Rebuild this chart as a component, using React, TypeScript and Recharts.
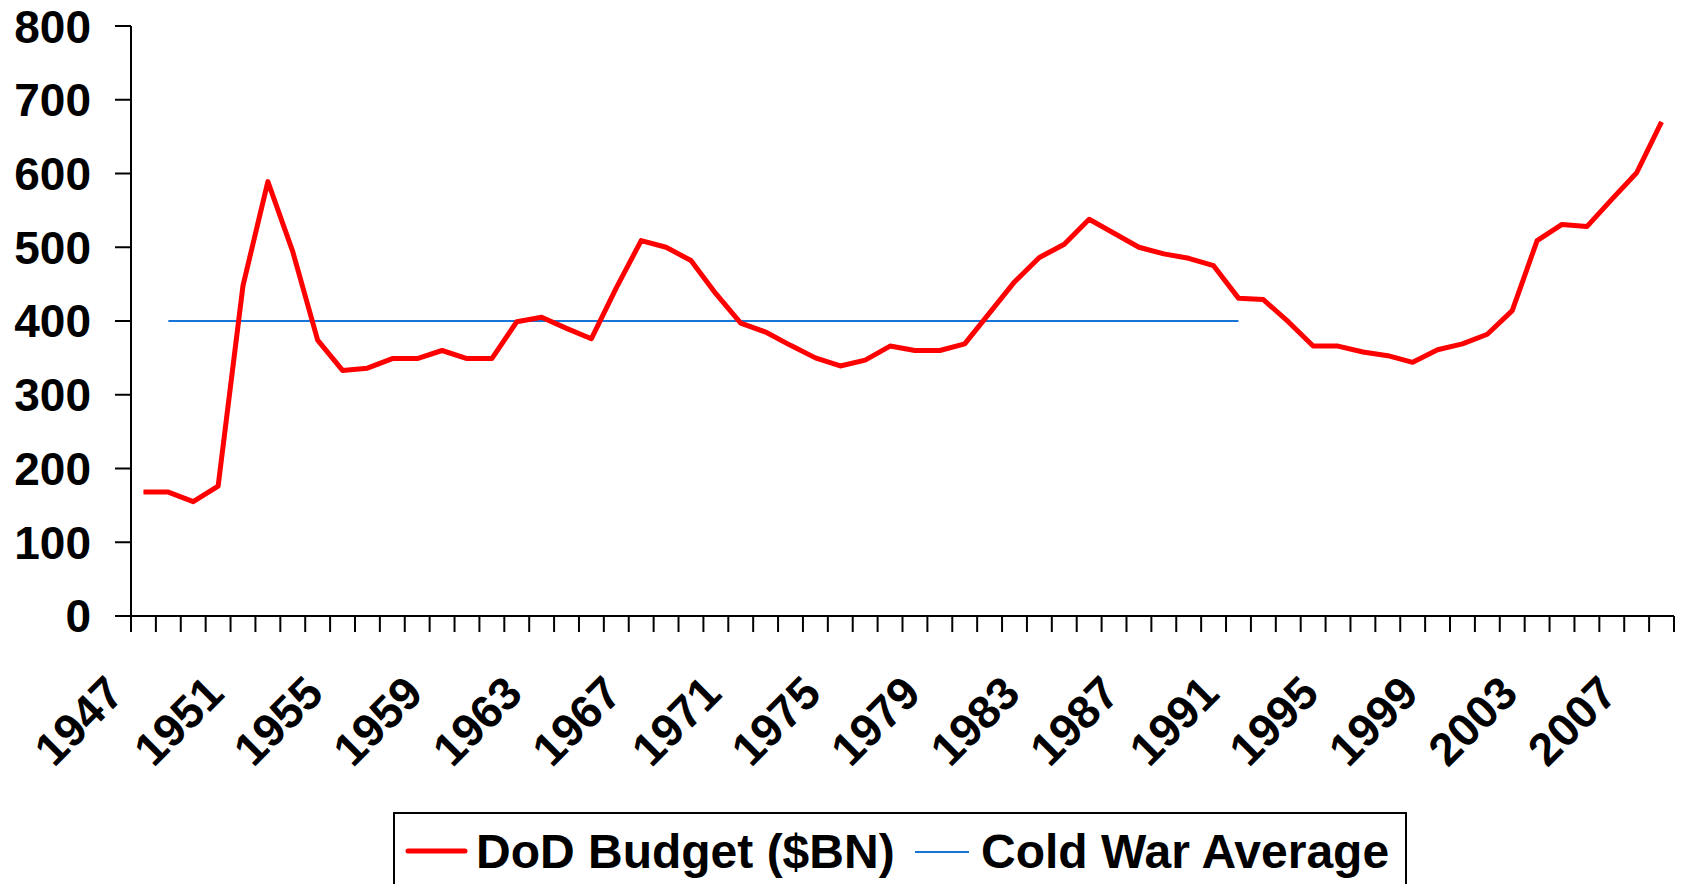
import { LineChart, Line, XAxis, YAxis, Legend } from 'recharts'

const years = [
  '1947', '1948', '1949', '1950', '1951', '1952', '1953', '1954', '1955', '1956',
  '1957', '1958', '1959', '1960', '1961', '1962', '1963', '1964', '1965', '1966',
  '1967', '1968', '1969', '1970', '1971', '1972', '1973', '1974', '1975', '1976',
  '1977', '1978', '1979', '1980', '1981', '1982', '1983', '1984', '1985', '1986',
  '1987', '1988', '1989', '1990', '1991', '1992', '1993', '1994', '1995', '1996',
  '1997', '1998', '1999', '2000', '2001', '2002', '2003', '2004', '2005', '2006',
  '2007', '2008',
]

// DoD budget, $BN
const budget = [
  168, 168, 155, 176, 448, 589, 494, 374, 333, 336,
  349, 349, 360, 349, 349, 399, 405, 390, 376, 445,
  509, 500, 482, 437, 397, 385, 367, 350, 339, 347,
  366, 360, 360, 369, 411, 453, 486, 504, 538, 519,
  500, 491, 485, 475, 431, 429, 399, 366, 366, 358,
  353, 344, 361, 369, 382, 414, 509, 531, 528, 565,
  601, 670,
]

// Cold War average, 1948-1991 only
const coldWarAverage = [
  null, 400, 400, 400, 400, 400, 400, 400, 400, 400,
  400, 400, 400, 400, 400, 400, 400, 400, 400, 400,
  400, 400, 400, 400, 400, 400, 400, 400, 400, 400,
  400, 400, 400, 400, 400, 400, 400, 400, 400, 400,
  400, 400, 400, 400, 400, null, null, null, null, null,
  null, null, null, null, null, null, null, null, null, null,
  null, null,
]

const yTicks = [0, 100, 200, 300, 400, 500, 600, 700, 800]

const data = years.map((year, i) => ({
  year,
  budget: budget[i],
  coldWar: coldWarAverage[i],
}))

const W = 1682
const H = 884
const PLOT_LEFT = 131
const PLOT_RIGHT = 1674
const BAND = (PLOT_RIGHT - PLOT_LEFT) / years.length
const FONT = '"Liberation Sans", Arial, Helvetica, sans-serif'

function YearTick(props: any) {
  const { x, y, index, payload } = props
  const half = BAND / 2
  const showLabel = index % 4 === 0
  const lx = x - 17
  const ly = y + 80
  return (
    <g>
      <line x1={x - half} y1={y} x2={x - half} y2={y + 16} stroke="#000" strokeWidth={2} />
      {index === years.length - 1 && (
        <line x1={x + half} y1={y} x2={x + half} y2={y + 16} stroke="#000" strokeWidth={2} />
      )}
      {showLabel && (
        <text
          x={lx}
          y={ly}
          transform={`rotate(-45, ${lx}, ${ly})`}
          textAnchor="end"
          fontFamily={FONT}
          fontWeight="bold"
          fontSize={46}
          fill="#000"
        >
          {payload.value}
        </text>
      )}
    </g>
  )
}

function LegendBox(props: any) {
  const items = props.payload || []
  const red = items.find((p: any) => p.dataKey === 'budget')
  const blue = items.find((p: any) => p.dataKey === 'coldWar')
  return (
    <svg width={1014} height={72} style={{ display: 'block' }}>
      <path d="M1,72 V1 H1013 V72" fill="none" stroke="#000" strokeWidth={2} />
      <line x1={15} y1={39} x2={72} y2={39} stroke={red?.color} strokeWidth={5} strokeLinecap="round" />
      <text x={83} y={56} fontFamily={FONT} fontWeight="bold" fontSize={48} fill="#000">
        {red?.value}
      </text>
      <line x1={522} y1={40} x2={576} y2={40} stroke={blue?.color} strokeWidth={2} />
      <text x={588} y={56} fontFamily={FONT} fontWeight="bold" fontSize={48} fill="#000">
        {blue?.value}
      </text>
    </svg>
  )
}

export default function App() {
  return (
    <div style={{ position: 'absolute', left: 0, top: 0, width: W, height: H, background: '#fff' }}>
      <LineChart
        width={W}
        height={H}
        data={data}
        margin={{ top: 26, right: W - PLOT_RIGHT, bottom: 188, left: 0 }}
      >
        <XAxis
          dataKey="year"
          interval={0}
          height={80}
          padding={{ left: BAND / 2, right: BAND / 2 }}
          tickLine={false}
          tickSize={0}
          tickMargin={0}
          axisLine={{ stroke: '#000', strokeWidth: 2 }}
          tick={<YearTick />}
        />
        <YAxis
          domain={[0, 800]}
          ticks={yTicks}
          width={PLOT_LEFT}
          tickSize={16}
          tickMargin={24}
          axisLine={{ stroke: '#000', strokeWidth: 2 }}
          tickLine={{ stroke: '#000', strokeWidth: 2 }}
          tick={{ fill: '#000', fontSize: 46, fontWeight: 'bold', fontFamily: FONT }}
        />
        <Legend
          layout="horizontal"
          verticalAlign="middle"
          align="center"
          wrapperStyle={{ left: 393, top: 812, width: 1014, height: 72 }}
          content={<LegendBox />}
        />
        <Line
          type="linear"
          dataKey="coldWar"
          name="Cold War Average"
          stroke="#1874d6"
          strokeWidth={2}
          dot={false}
          activeDot={false}
          isAnimationActive={false}
        />
        <Line
          type="linear"
          dataKey="budget"
          name="DoD Budget ($BN)"
          stroke="#ff0000"
          strokeWidth={5}
          strokeLinejoin="round"
          dot={false}
          activeDot={false}
          isAnimationActive={false}
        />
      </LineChart>
    </div>
  )
}
